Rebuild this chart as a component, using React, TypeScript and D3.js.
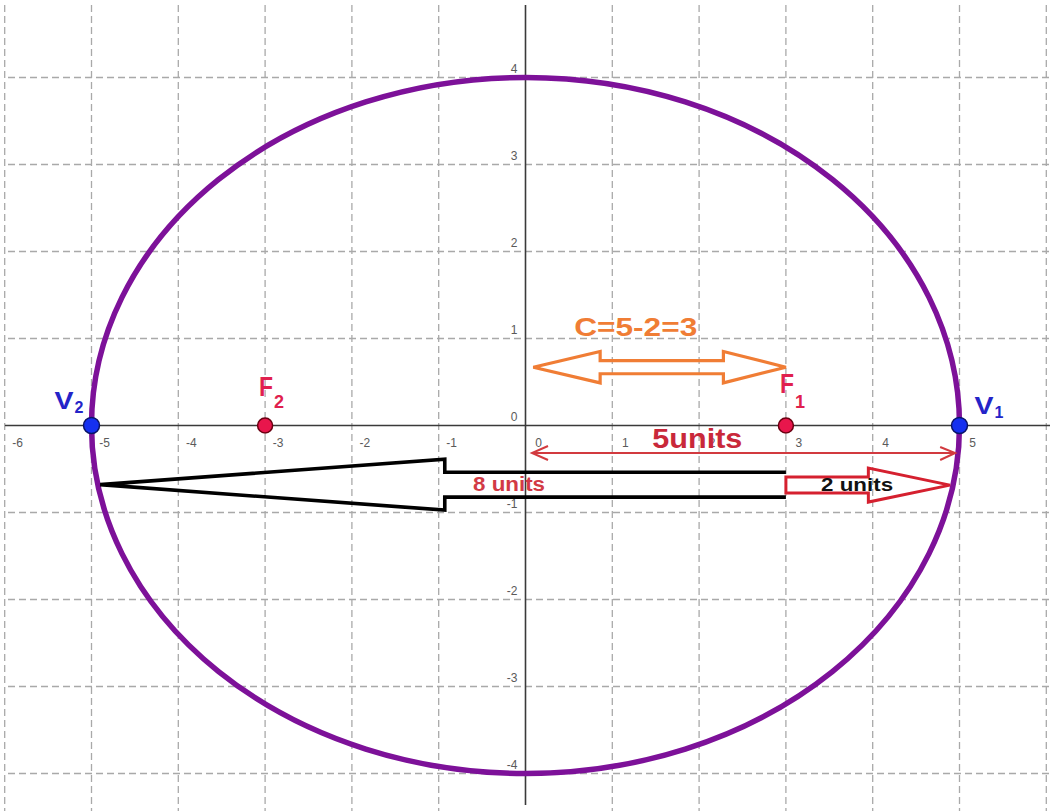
import React from "react";
import * as d3 from "d3";

// ---- data ----
const xTickValues = [-6, -5, -4, -3, -2, -1, 0, 1, 2, 3, 4, 5, 6];
const yTickValues = [-4, -3, -2, -1, 0, 1, 2, 3, 4];
const semiMajor = 5;
const semiMinor = 4;
const vertices = [
  { name: "V", sub: "1", x: 5, y: 0 },
  { name: "V", sub: "2", x: -5, y: 0 },
];
const foci = [
  { name: "F", sub: "1", x: 3, y: 0 },
  { name: "F", sub: "2", x: -3, y: 0 },
];
// annotation arrows (data coordinates)
const cArrow = { from: 0.09, to: 3.0, y: 0.67, shaft: 0.075, head: 0.18, headLenL: 0.77, headLenR: 0.72 };
const cLabel = { text: "C=5-2=3", x: 1.27, y: 1.03 };
const fiveArrow = { from: 0.075, to: 4.95, y: -0.316 };
const fiveLabel = { text: "5units", x: 1.98, y: -0.26 };
const eightArrow = { tail: 3.0, tip: -4.9, y: -0.68, shaft: 0.143, head: 0.293, headBase: -0.93 };
const eightLabel = { text: "8 units", x: -0.19, y: -0.755 };
const twoArrow = { tail: 3.0, tip: 4.89, y: -0.685, shaft: 0.092, head: 0.195, headBase: 3.95 };
const twoLabel = { text: "2 units", x: 3.82, y: -0.755 };

const W = 1050;
const H = 811;
const FONT = "'Liberation Sans', Arial, Helvetica, sans-serif";

export default function App() {
  const x = d3.scaleLinear().domain([-6, 6]).range([4.7, 1046.3]);
  const y = d3.scaleLinear().domain([-4, 4]).range([773.5, 77.5]);
  const ux = x(1) - x(0);
  const uy = y(0) - y(1);

  // orange double arrow
  const oy = y(cArrow.y);
  const os = cArrow.shaft * uy;
  const oh = cArrow.head * uy;
  const oL = x(cArrow.from);
  const oR = x(cArrow.to);
  const oLb = x(cArrow.from + cArrow.headLenL);
  const oRb = x(cArrow.to - cArrow.headLenR);
  const orangePath = d3.path();
  orangePath.moveTo(oL, oy);
  orangePath.lineTo(oLb, oy - oh);
  orangePath.lineTo(oLb, oy - os);
  orangePath.lineTo(oRb, oy - os);
  orangePath.lineTo(oRb, oy - oh);
  orangePath.lineTo(oR, oy);
  orangePath.lineTo(oRb, oy + oh);
  orangePath.lineTo(oRb, oy + os);
  orangePath.lineTo(oLb, oy + os);
  orangePath.lineTo(oLb, oy + oh);
  orangePath.closePath();

  // black 8 units arrow (open at tail)
  const by = y(eightArrow.y);
  const bs = eightArrow.shaft * uy;
  const bh = eightArrow.head * uy;
  const bTail = x(eightArrow.tail);
  const bBase = x(eightArrow.headBase);
  const bTip = x(eightArrow.tip);
  const blackPath = d3.path();
  blackPath.moveTo(bTail, by - bs);
  blackPath.lineTo(bBase, by - bs);
  blackPath.lineTo(bBase, by - bh);
  blackPath.lineTo(bTip, by);
  blackPath.lineTo(bBase, by + bh);
  blackPath.lineTo(bBase, by + bs);
  blackPath.lineTo(bTail, by + bs);

  // red 2 units arrow
  const ry = y(twoArrow.y);
  const rs = twoArrow.shaft * uy;
  const rh = twoArrow.head * uy;
  const rTail = x(twoArrow.tail);
  const rBase = x(twoArrow.headBase);
  const rTip = x(twoArrow.tip);
  const redPath = d3.path();
  redPath.moveTo(rTail, ry - rs);
  redPath.lineTo(rBase, ry - rs);
  redPath.lineTo(rBase, ry - rh);
  redPath.lineTo(rTip, ry);
  redPath.lineTo(rBase, ry + rh);
  redPath.lineTo(rBase, ry + rs);
  redPath.lineTo(rTail, ry + rs);
  redPath.closePath();

  // thin 5 units arrow
  const fy = y(fiveArrow.y);
  const fL = x(fiveArrow.from);
  const fR = x(fiveArrow.to);
  const thinPath = d3.path();
  thinPath.moveTo(fL, fy);
  thinPath.lineTo(fR, fy);
  thinPath.moveTo(fL + 16, fy - 7);
  thinPath.lineTo(fL, fy);
  thinPath.lineTo(fL + 16, fy + 7);
  thinPath.moveTo(fR - 15, fy - 6);
  thinPath.lineTo(fR, fy);
  thinPath.lineTo(fR - 15, fy + 7);

  const gridColor = "#a9a9a9";
  const axisColor = "#3a3a3a";

  return (
    <svg
      width={W}
      height={H}
      viewBox={`0 0 ${W} ${H}`}
      style={{ position: "absolute", left: 0, top: 0, background: "#fff" }}
      fontFamily={FONT}
    >
      <rect x={0} y={0} width={W} height={H} fill="#ffffff" />
      {/* grid */}
      <g stroke={gridColor} strokeWidth={1.3} strokeDasharray="7,4">
        {xTickValues
          .filter((v) => v !== 0)
          .map((v) => (
            <line key={"gx" + v} x1={x(v)} x2={x(v)} y1={5} y2={H} />
          ))}
        {yTickValues
          .filter((v) => v !== 0)
          .map((v) => (
            <line key={"gy" + v} x1={8} x2={W} y1={y(v)} y2={y(v)} />
          ))}
      </g>
      {/* axes */}
      <line x1={5} x2={W} y1={y(0)} y2={y(0)} stroke={axisColor} strokeWidth={1.6} />
      <line x1={x(0)} x2={x(0)} y1={5} y2={805} stroke={axisColor} strokeWidth={1.6} />
      {/* tick labels */}
      <g fill="#5a5a5a" fontSize={12}>
        {xTickValues
          .filter((v) => v !== 6)
          .map((v) => (
            <text key={"tx" + v} x={x(v) + 13} y={y(0) + 21} textAnchor="middle">
              {v}
            </text>
          ))}
        {yTickValues.map((v) => (
          <text key={"ty" + v} x={x(0) - 8} y={y(v) - 5} textAnchor="end">
            {v}
          </text>
        ))}
      </g>
      {/* ellipse */}
      <ellipse
        cx={x(0)}
        cy={y(0)}
        rx={semiMajor * ux}
        ry={semiMinor * uy}
        fill="none"
        stroke="#7d1199"
        strokeWidth={5.5}
      />
      {/* arrows */}
      <path d={orangePath.toString()} fill="none" stroke="#f07d35" strokeWidth={3.2} strokeLinejoin="miter" />
      <text
        x={x(cLabel.x)}
        y={y(cLabel.y)}
        textAnchor="middle"
        fill="#f07d35"
        fontSize={25}
        fontWeight="bold"
        textLength={123}
        lengthAdjust="spacingAndGlyphs"
      >
        {cLabel.text}
      </text>
      <path d={thinPath.toString()} fill="none" stroke="#d23a3f" strokeWidth={2} />
      <text
        x={x(fiveLabel.x)}
        y={y(fiveLabel.y)}
        textAnchor="middle"
        fill="#c9283a"
        fontSize={27}
        fontWeight="bold"
        textLength={90}
        lengthAdjust="spacingAndGlyphs"
      >
        {fiveLabel.text}
      </text>
      <path d={blackPath.toString()} fill="none" stroke="#000" strokeWidth={3.6} strokeLinejoin="miter" />
      <path d={redPath.toString()} fill="none" stroke="#d5202f" strokeWidth={3} strokeLinejoin="miter" />
      <text
        x={x(eightLabel.x)}
        y={y(eightLabel.y)}
        textAnchor="middle"
        fill="#d23a45"
        fontSize={20}
        fontWeight="bold"
        textLength={72}
        lengthAdjust="spacingAndGlyphs"
      >
        {eightLabel.text}
      </text>
      <text
        x={x(twoLabel.x)}
        y={y(twoLabel.y)}
        textAnchor="middle"
        fill="#111"
        fontSize={18}
        fontWeight="bold"
        textLength={72}
        lengthAdjust="spacingAndGlyphs"
      >
        {twoLabel.text}
      </text>
      {/* foci */}
      {foci.map((f) => (
        <g key={"f" + f.sub}>
          <circle cx={x(f.x)} cy={y(f.y)} r={7.5} fill="#e8164c" stroke="#6a0010" strokeWidth={1.5} />
          <text
            x={x(f.x) - 6}
            y={y(f.y) - (f.sub === "1" ? 33 : 30)}
            fill="#e0204e"
            fontSize={27}
            fontWeight="bold"
            textLength={14}
            lengthAdjust="spacingAndGlyphs"
          >
            {f.name}
          </text>
          <text x={x(f.x) + 9} y={y(f.y) - 18} fill="#e0204e" fontSize={18} fontWeight="bold">
            {f.sub}
          </text>
        </g>
      ))}
      {/* vertices */}
      {vertices.map((v) => {
        const px = x(v.x);
        const py = y(v.y);
        const lx = v.sub === "1" ? px + 15 : px - 37;
        const ly = v.sub === "1" ? py - 12 : py - 17;
        return (
          <g key={"v" + v.sub}>
            <circle cx={px} cy={py} r={8} fill="#1530f0" stroke="#0b1466" strokeWidth={1.5} />
            <text
              x={lx}
              y={ly}
              fill="#2424c8"
              fontSize={23}
              fontWeight="bold"
              textLength={19}
              lengthAdjust="spacingAndGlyphs"
            >
              {v.name}
            </text>
            <text x={lx + 20} y={ly + 4} fill="#2424c8" fontSize={16} fontWeight="bold">
              {v.sub}
            </text>
          </g>
        );
      })}
    </svg>
  );
}
